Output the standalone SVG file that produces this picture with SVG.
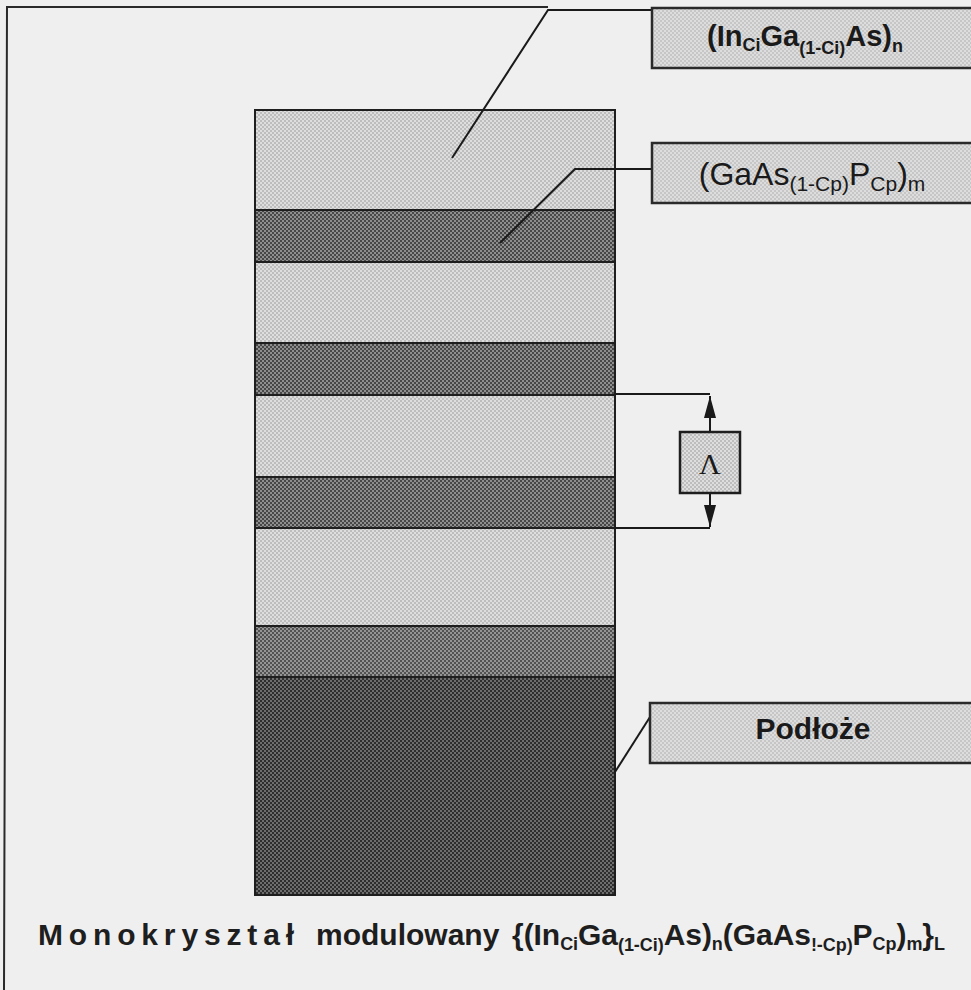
<svg xmlns="http://www.w3.org/2000/svg" width="971" height="990" viewBox="0 0 971 990">
  <defs>
    <!-- halftone-like fills for the layers and the label boxes -->
    <pattern id="pLight" width="4" height="4" patternUnits="userSpaceOnUse">
      <rect width="4" height="4" fill="#dedede"/>
      <rect width="2" height="2" fill="#bdbdbd"/>
      <rect x="2" y="2" width="2" height="2" fill="#bdbdbd"/>
    </pattern>
    <pattern id="pDark" width="4" height="4" patternUnits="userSpaceOnUse">
      <rect width="4" height="4" fill="#8e8e8e"/>
      <rect width="2" height="2" fill="#474747"/>
      <rect x="2" y="2" width="2" height="2" fill="#474747"/>
    </pattern>
    <pattern id="pMid" width="4" height="4" patternUnits="userSpaceOnUse">
      <rect width="4" height="4" fill="#959595"/>
      <rect width="2" height="2" fill="#525252"/>
      <rect x="2" y="2" width="2" height="2" fill="#525252"/>
    </pattern>
    <pattern id="pSub" width="4" height="4" patternUnits="userSpaceOnUse">
      <rect width="4" height="4" fill="#6e6e6e"/>
      <rect width="2" height="2" fill="#2e2e2e"/>
      <rect x="2" y="2" width="2" height="2" fill="#2e2e2e"/>
    </pattern>
    <pattern id="pLabel" width="4" height="4" patternUnits="userSpaceOnUse">
      <rect width="4" height="4" fill="#dddddd"/>
      <rect width="2" height="2" fill="#c6c6c6"/>
      <rect x="2" y="2" width="2" height="2" fill="#c6c6c6"/>
    </pattern>
    <marker id="arr" viewBox="0 0 22 12" refX="22" refY="6" markerWidth="22" markerHeight="12" markerUnits="userSpaceOnUse" orient="auto">
      <path d="M0,0 L22,6 L0,12 Z" fill="#1a1a1a"/>
    </marker>
    <style>
      .layer { stroke: #1e1e1e; stroke-width: 2; }
      .box { stroke: #2a2a2a; stroke-width: 2.5; fill: url(#pLabel); }
      .lead { stroke: #1a1a1a; stroke-width: 2; fill: none; }
      .lbl { font-family: "Liberation Sans", Arial, sans-serif; fill: #1a1a1a; }
      .b { font-weight: bold; }
      .cap { font-family: "Liberation Sans", Arial, sans-serif; font-weight: bold; font-size: 30px; fill: #1e1e1e; }
    </style>
  </defs>

  <!-- background and frame -->
  <rect width="971" height="990" fill="#efefef"/>
  <path d="M4,990 L7,7 L548,7" fill="none" stroke="#2a2a2a" stroke-width="2"/>

  <!-- layered structure -->
  <g id="stack">
    <rect id="layer-ingaas-1" class="layer" x="255" y="110" width="360" height="100" fill="url(#pLight)"/>
    <rect id="layer-gaasp-1" class="layer" x="255" y="210" width="360" height="52" fill="url(#pDark)"/>
    <rect id="layer-ingaas-2" class="layer" x="255" y="262" width="360" height="81" fill="url(#pLight)"/>
    <rect id="layer-gaasp-2" class="layer" x="255" y="343" width="360" height="52" fill="url(#pDark)"/>
    <rect id="layer-ingaas-3" class="layer" x="255" y="395" width="360" height="82" fill="url(#pLight)"/>
    <rect id="layer-gaasp-3" class="layer" x="255" y="477" width="360" height="51" fill="url(#pDark)"/>
    <rect id="layer-ingaas-4" class="layer" x="255" y="528" width="360" height="98" fill="url(#pLight)"/>
    <rect id="layer-buffer" class="layer" x="255" y="626" width="360" height="51" fill="url(#pMid)"/>
    <rect id="layer-substrate" class="layer" x="255" y="677" width="360" height="218" fill="url(#pSub)"/>
  </g>

  <!-- leaders and period bracket -->
  <g id="connectors">
    <path class="lead" d="M452,158 L548,10 L652,10"/>
    <path class="lead" d="M500,243 L575,169 L652,169"/>
    <path class="lead" d="M615,772 L650,717"/>
    <path class="lead" d="M615,394 L710,394"/>
    <path class="lead" d="M615,528 L710,528"/>
    <path class="lead" d="M710,432 L710,396" marker-end="url(#arr)"/>
    <path class="lead" d="M710,493 L710,527" marker-end="url(#arr)"/>
  </g>

  <!-- label: InGaAs layer -->
  <g id="label-ingaas">
    <rect class="box" x="652" y="8" width="330" height="60"/>
    <text class="lbl b" x="805" y="46" font-size="29" text-anchor="middle">(In<tspan font-size="18" dy="5">Ci</tspan><tspan dy="-5">Ga</tspan><tspan font-size="18" dy="8">(1-Ci)</tspan><tspan dy="-8">As)</tspan><tspan font-size="18" dy="6">n</tspan></text>
  </g>

  <!-- label: GaAsP layer -->
  <g id="label-gaasp">
    <rect class="box" x="652" y="143" width="330" height="60"/>
    <text class="lbl" x="812" y="185" font-size="32" text-anchor="middle">(GaAs<tspan font-size="21" dy="6">(1-Cp)</tspan><tspan dy="-6">P</tspan><tspan font-size="21" dy="6">Cp</tspan><tspan dy="-6">)</tspan><tspan font-size="21" dy="6">m</tspan></text>
  </g>

  <!-- label: substrate -->
  <g id="label-substrate">
    <rect class="box" x="650" y="703" width="332" height="60"/>
    <text class="lbl b" x="813" y="739" font-size="30" text-anchor="middle">Podłoże</text>
  </g>

  <!-- period marker -->
  <g id="period">
    <rect x="680" y="432" width="60" height="61" fill="url(#pLight)" stroke="#1e1e1e" stroke-width="2.5"/>
    <text x="710" y="474" font-family="'Liberation Serif', 'Times New Roman', serif" font-size="30" text-anchor="middle" fill="#1a1a1a">Λ</text>
  </g>

  <!-- caption -->
  <g id="caption">
    <text class="cap" x="38" y="945" textLength="256" lengthAdjust="spacing">Monokryształ</text>
    <text class="cap" x="316" y="945">modulowany</text>
    <text class="cap" x="512" y="945" font-size="29" textLength="433" lengthAdjust="spacing">{(In<tspan font-size="18" dy="5">Ci</tspan><tspan dy="-5">Ga</tspan><tspan font-size="18" dy="6">(1-Ci)</tspan><tspan dy="-6">As)</tspan><tspan font-size="18" dy="5">n</tspan><tspan dy="-5">(GaAs</tspan><tspan font-size="18" dy="6">!-Cp)</tspan><tspan dy="-6">P</tspan><tspan font-size="18" dy="5">Cp</tspan><tspan dy="-5">)</tspan><tspan font-size="18" dy="5">m</tspan><tspan dy="-5">}</tspan><tspan font-size="18" dy="5">L</tspan></text>
  </g>
</svg>
